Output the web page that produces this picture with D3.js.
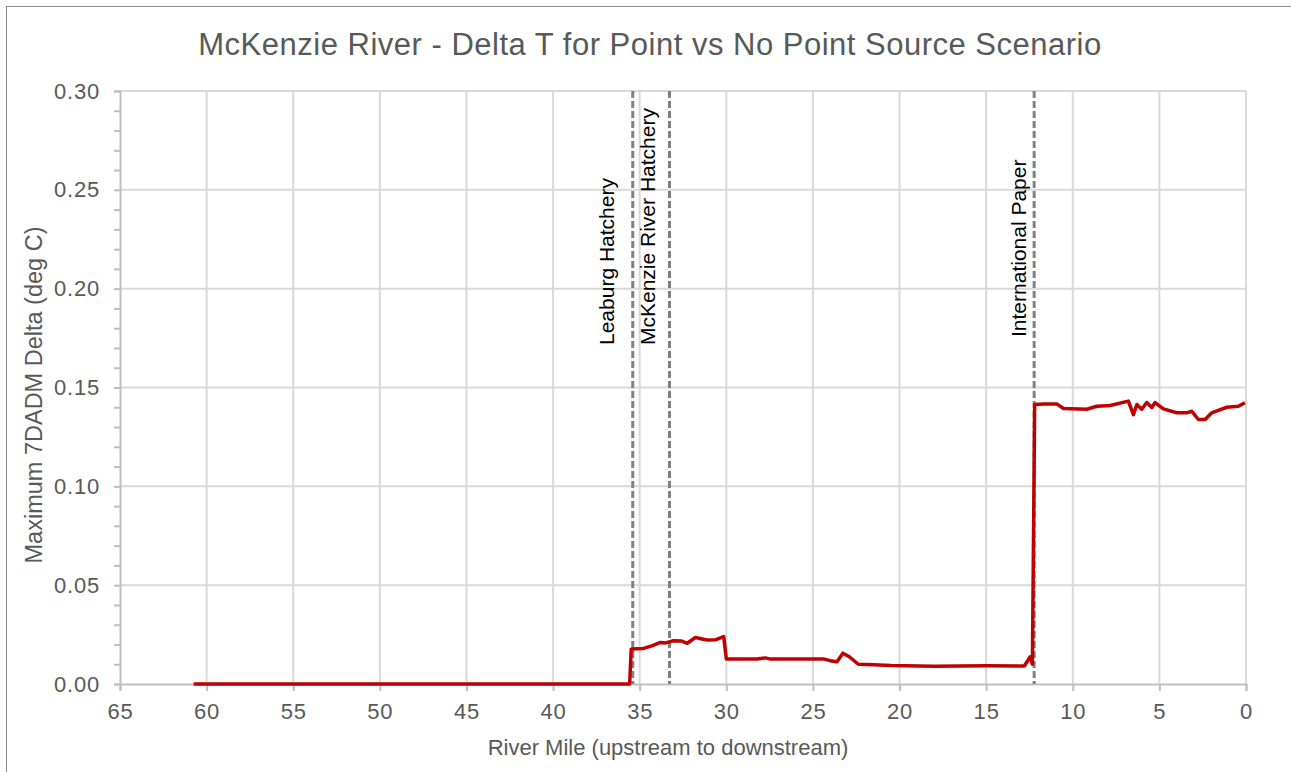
<!DOCTYPE html>
<html>
  <head>
    <title>McKenzie River Delta T</title>
    <script src="https://d3js.org/d3.v7.min.js" charset="utf-8"></script>
    <style>
      body {
        margin: 0;
        background: #fff;
        font-family: "Liberation Sans", Arial, sans-serif;
      }
      .tick text {
        fill: #595959;
        font-size: 22px;
        letter-spacing: 0.8px;
      }
    </style>
  </head>
  <body>
    <svg></svg>

    <script>
      // river mile (upstream -> downstream) and max 7DADM delta (deg C)
      const riverMile = [
        60.75, 35.58, 35.49, 35.2, 34.78, 34.3, 33.8, 33.5, 33.05, 32.6,
        32.26, 31.78, 31.4, 31.1, 30.6, 30.15, 30.0, 28.2, 27.74, 27.5, 24.4,
        24.0, 23.61, 23.27, 22.9, 22.38, 21.5, 20.5, 18.0, 15.0, 12.8, 12.46,
        12.33, 12.2, 11.69, 10.92, 10.54, 9.19, 8.61, 7.84, 6.79, 6.5, 6.3,
        6.02, 5.73, 5.44, 5.25, 4.77, 4.0, 3.42, 3.13, 2.75, 2.36, 1.98, 1.11,
        0.44, 0.06,
      ];
      const deltaT = [
        0, 0, 0.0176, 0.0178, 0.018, 0.0193, 0.021, 0.0208, 0.0219, 0.0218,
        0.0206, 0.0235, 0.0228, 0.0223, 0.0224, 0.024, 0.0127, 0.0127, 0.0132,
        0.0127, 0.0127, 0.0118, 0.0113, 0.0156, 0.0138, 0.01, 0.0097, 0.0093,
        0.009, 0.0092, 0.0091, 0.0137, 0.01, 0.1414, 0.1417, 0.1417, 0.1394,
        0.139, 0.1405, 0.1409, 0.1431, 0.1363, 0.1414, 0.139, 0.1424, 0.1399,
        0.1424, 0.1392, 0.1372, 0.1372, 0.138, 0.1338, 0.1338, 0.1372, 0.14,
        0.1405, 0.1423,
      ];

      // point sources
      const sourceNames = [
        "Leaburg Hatchery",
        "McKenzie River Hatchery",
        "International Paper",
      ];
      const sourceMiles = [35.4, 33.28, 12.23];

      const xTicks = [65, 60, 55, 50, 45, 40, 35, 30, 25, 20, 15, 10, 5, 0];
      const yTicks = [0, 0.05, 0.1, 0.15, 0.2, 0.25, 0.3];

      const W = 1291;
      const H = 772;
      const margin = { top: 91, right: 45, bottom: 88, left: 120 };
      const width = W - margin.left - margin.right;
      const height = H - margin.top - margin.bottom;

      const svgRoot = d3.select("svg").attr("width", W).attr("height", H);

      // chart frame
      svgRoot
        .append("rect")
        .attr("x", 6.5)
        .attr("y", 6.5)
        .attr("width", W + 10)
        .attr("height", H + 10)
        .attr("fill", "none")
        .attr("stroke", "#8c8c8c")
        .attr("stroke-width", 1);

      svgRoot
        .append("text")
        .attr("x", 650)
        .attr("y", 55)
        .attr("text-anchor", "middle")
        .attr("fill", "#595959")
        .style("font-size", "31px")
        .style("letter-spacing", "0.5px")
        .text("McKenzie River - Delta T for Point vs No Point Source Scenario");

      const svg = svgRoot
        .append("g")
        .attr("transform", `translate(${margin.left}, ${margin.top})`);

      const x = d3.scaleLinear().domain([65, 0]).range([0, width]);
      const y = d3.scaleLinear().domain([0, 0.3]).range([height, 0]);

      // gridlines
      svg
        .append("g")
        .selectAll("line")
        .data(yTicks.slice(1))
        .enter()
        .append("line")
        .attr("x1", 0)
        .attr("x2", width)
        .attr("y1", (d) => y(d))
        .attr("y2", (d) => y(d))
        .attr("stroke", "#d9d9d9")
        .attr("stroke-width", 2);

      svg
        .append("g")
        .selectAll("line")
        .data(xTicks.slice(1))
        .enter()
        .append("line")
        .attr("x1", (d) => x(d))
        .attr("x2", (d) => x(d))
        .attr("y1", 0)
        .attr("y2", height)
        .attr("stroke", "#d9d9d9")
        .attr("stroke-width", 2);

      // y minor ticks
      const yAxis = svg
        .append("g")
        .call(
          d3
            .axisLeft(y)
            .tickValues(d3.range(0, 0.3001, 0.01))
            .tickSize(6)
            .tickFormat("")
        );
      yAxis.select(".domain").attr("stroke", "#bfbfbf").attr("stroke-width", 2);
      yAxis.selectAll(".tick line").attr("stroke", "#bfbfbf").attr("stroke-width", 2);

      const yLabels = svg
        .append("g")
        .call(
          d3
            .axisLeft(y)
            .tickValues(yTicks)
            .tickSize(0)
            .tickPadding(20)
            .tickFormat(d3.format(".2f"))
        );
      yLabels.select(".domain").remove();

      const xAxis = svg
        .append("g")
        .attr("transform", `translate(0, ${height})`)
        .call(
          d3
            .axisBottom(x)
            .tickValues(xTicks)
            .tickSize(7)
            .tickPadding(12)
            .tickFormat(d3.format("d"))
        );
      xAxis.select(".domain").attr("stroke", "#bfbfbf").attr("stroke-width", 2);
      xAxis.selectAll(".tick line").attr("stroke", "#bfbfbf").attr("stroke-width", 2);

      // axis titles
      svg
        .append("text")
        .attr("x", 548)
        .attr("y", height + 71)
        .attr("text-anchor", "middle")
        .attr("fill", "#595959")
        .style("font-size", "22px")
        .text("River Mile (upstream to downstream)");

      svg
        .append("text")
        .attr("transform", "rotate(-90)")
        .attr("x", -304)
        .attr("y", -78)
        .attr("text-anchor", "middle")
        .attr("fill", "#595959")
        .style("font-size", "23.5px")
        .text("Maximum 7DADM Delta (deg C)");

      // point source markers
      const labelDx = [-19, -14, -8];
      const labelY = [254, 254, 246];
      sourceMiles.forEach((m, i) => {
        svg
          .append("line")
          .attr("x1", x(m))
          .attr("x2", x(m))
          .attr("y1", 0)
          .attr("y2", height)
          .attr("stroke", "#808080")
          .attr("stroke-width", 3)
          .attr("stroke-dasharray", "7,3");

        svg
          .append("text")
          .attr(
            "transform",
            `translate(${x(m) + labelDx[i]}, ${labelY[i]}) rotate(-90)`
          )
          .attr("fill", "#000")
          .style("font-size", "21px")
          .text(sourceNames[i]);
      });

      const series = riverMile.map((m, i) => ({ mile: m, value: deltaT[i] }));

      const line = d3
        .line()
        .x((d) => x(d.mile))
        .y((d) => y(d.value));

      svg
        .append("path")
        .datum(series)
        .attr("fill", "none")
        .attr("stroke", "#c00000")
        .attr("stroke-width", 3.5)
        .attr("stroke-linejoin", "round")
        .attr("d", line);
    </script>
  </body>
</html>
